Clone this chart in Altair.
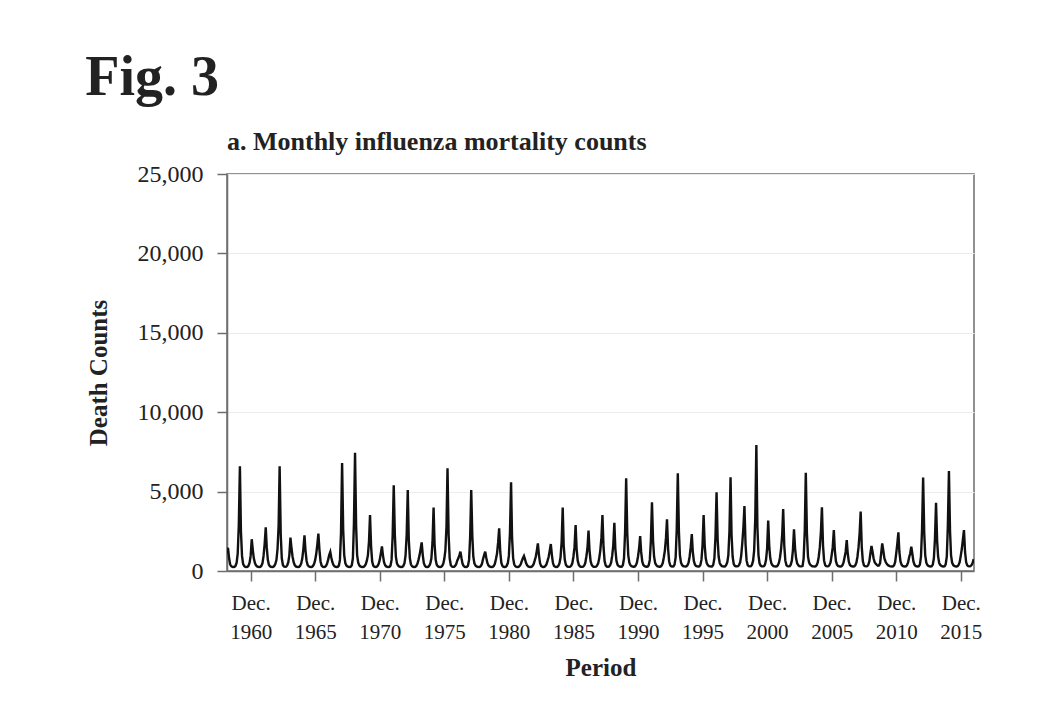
import altair as alt
import pandas as pd

# Monthly influenza deaths, Jan..Dec for each year
years = list(range(1959, 2017))
counts_by_year = [
    [1100, 1300, 1450, 800, 420, 300, 260, 250, 260, 330, 520, 1100],   # 1959
    [2900, 6600, 2500, 950, 450, 310, 260, 250, 260, 330, 520, 950],    # 1960
    [2000, 1300, 800, 500, 360, 290, 260, 250, 260, 330, 500, 950],     # 1961
    [1700, 2750, 1500, 700, 400, 300, 260, 250, 260, 320, 450, 700],    # 1962
    [1400, 2900, 6600, 2300, 800, 380, 280, 260, 270, 350, 550, 1000],  # 1963
    [2100, 1400, 900, 550, 370, 290, 260, 250, 260, 330, 480, 800],     # 1964
    [1400, 2250, 1300, 650, 380, 290, 260, 250, 260, 320, 450, 700],    # 1965
    [1100, 1700, 2350, 1300, 600, 340, 270, 250, 260, 320, 450, 700],   # 1966
    [1000, 1200, 850, 550, 380, 300, 260, 250, 260, 340, 700, 2400],    # 1967
    [6800, 2600, 1000, 500, 350, 290, 260, 250, 270, 360, 800, 3000],   # 1968
    [7450, 2800, 1000, 520, 360, 290, 260, 250, 260, 320, 430, 650],    # 1969
    [1000, 1900, 3530, 1500, 600, 340, 270, 250, 260, 320, 450, 700],   # 1970
    [1100, 1550, 1000, 560, 370, 290, 260, 250, 260, 340, 700, 2200],   # 1971
    [5400, 2300, 900, 480, 350, 290, 260, 250, 260, 330, 500, 1000],    # 1972
    [2300, 5100, 2000, 800, 420, 300, 260, 250, 260, 320, 450, 700],    # 1973
    [1000, 1400, 1800, 1000, 500, 320, 260, 250, 260, 330, 480, 800],   # 1974
    [1800, 4000, 1700, 700, 400, 300, 260, 250, 260, 320, 450, 750],    # 1975
    [1300, 2800, 6470, 2300, 800, 380, 280, 260, 260, 320, 430, 650],   # 1976
    [800, 1000, 1220, 800, 450, 310, 260, 250, 260, 340, 700, 2100],    # 1977
    [5100, 2200, 900, 480, 350, 290, 260, 250, 260, 320, 450, 750],     # 1978
    [1000, 1220, 850, 520, 360, 290, 260, 250, 260, 320, 450, 750],     # 1979
    [1100, 1800, 2690, 1200, 520, 320, 260, 250, 260, 330, 500, 950],   # 1980
    [2400, 5580, 2100, 800, 420, 300, 260, 250, 260, 320, 420, 620],    # 1981
    [800, 945, 750, 500, 360, 290, 260, 250, 260, 320, 430, 650],       # 1982
    [900, 1300, 1740, 1000, 500, 320, 270, 250, 260, 320, 430, 650],    # 1983
    [900, 1300, 1700, 1000, 500, 320, 270, 250, 260, 330, 480, 850],    # 1984
    [1800, 3990, 1600, 700, 400, 300, 270, 260, 270, 340, 500, 900],    # 1985
    [1500, 2900, 1400, 650, 400, 300, 270, 260, 270, 340, 500, 900],    # 1986
    [1400, 2540, 1300, 620, 390, 300, 270, 260, 270, 340, 480, 800],    # 1987
    [1300, 2100, 3530, 1500, 620, 350, 280, 270, 280, 350, 520, 950],   # 1988
    [1600, 3040, 1400, 650, 400, 310, 280, 270, 280, 380, 800, 2400],   # 1989
    [5840, 2400, 1000, 520, 370, 300, 280, 270, 280, 350, 520, 900],    # 1990
    [1400, 2200, 1200, 600, 390, 310, 280, 270, 280, 370, 700, 1900],   # 1991
    [4330, 1900, 900, 500, 370, 300, 280, 270, 280, 350, 500, 850],     # 1992
    [1300, 2100, 3250, 1400, 600, 350, 290, 280, 290, 400, 850, 2600],  # 1993
    [6150, 2500, 1000, 530, 380, 310, 290, 280, 290, 360, 520, 900],    # 1994
    [1500, 2330, 1200, 620, 400, 320, 290, 280, 290, 380, 700, 1600],   # 1995
    [3530, 1600, 800, 480, 370, 310, 290, 280, 290, 400, 800, 2100],    # 1996
    [4960, 2000, 900, 500, 380, 310, 290, 280, 290, 380, 560, 1000],    # 1997
    [2500, 5900, 2300, 900, 450, 330, 300, 290, 300, 380, 560, 1000],   # 1998
    [1800, 2800, 4090, 1700, 650, 370, 300, 290, 300, 400, 650, 1300],  # 1999
    [3300, 7930, 2800, 1000, 480, 340, 300, 290, 300, 400, 700, 1400],  # 2000
    [3170, 1500, 800, 480, 370, 310, 290, 280, 290, 360, 520, 850],     # 2001
    [1400, 2300, 3900, 1600, 650, 370, 300, 290, 300, 400, 650, 1300],  # 2002
    [2620, 1400, 800, 480, 370, 310, 290, 290, 320, 800, 2500, 6190],   # 2003
    [2400, 900, 550, 400, 340, 300, 290, 280, 290, 360, 520, 900],      # 2004
    [1500, 2500, 4010, 1600, 650, 370, 300, 290, 300, 380, 560, 1000],  # 2005
    [1500, 2580, 1300, 620, 400, 320, 290, 280, 290, 360, 520, 850],    # 2006
    [1200, 1950, 1100, 580, 390, 320, 290, 280, 290, 360, 520, 900],    # 2007
    [1500, 2400, 3740, 1500, 620, 360, 300, 290, 300, 380, 600, 1100],  # 2008
    [1575, 1200, 800, 550, 450, 380, 330, 350, 500, 1100, 1740, 1300],  # 2009
    [800, 600, 480, 390, 340, 310, 290, 280, 290, 360, 560, 1100],      # 2010
    [1700, 2440, 1200, 600, 400, 320, 290, 280, 290, 360, 520, 850],    # 2011
    [1100, 1530, 1100, 600, 400, 320, 290, 280, 300, 400, 900, 2600],   # 2012
    [5880, 2400, 1000, 520, 380, 320, 290, 280, 300, 400, 800, 2000],   # 2013
    [4300, 1900, 900, 500, 380, 320, 290, 280, 300, 420, 900, 2800],    # 2014
    [6300, 2500, 1000, 530, 380, 320, 290, 280, 300, 380, 560, 950],    # 2015
    [1400, 2000, 2580, 1200, 560, 360, 300, 290, 300, 370, 500, 750],   # 2016
]

tick_years = [1960, 1965, 1970, 1975, 1980, 1985, 1990, 1995, 2000, 2005, 2010, 2015]
y_ticks = [0, 5000, 10000, 15000, 20000, 25000]

rows = []
for y, vals in zip(years, counts_by_year):
    for m, v in enumerate(vals):
        rows.append({"date": pd.Timestamp(year=y, month=m + 1, day=1), "deaths": v})
df = pd.DataFrame(rows)

serif = "Liberation Serif"
ink = "#222222"
axis_gray = "#6e6e6e"

line = alt.Chart(df).mark_line(color="#111111", strokeWidth=2.4, clip=True).encode(
    x=alt.X(
        "date:T",
        title="Period",
        scale=alt.Scale(domain=[alt.DateTime(year=1959, month=2, date=1),
                                alt.DateTime(year=2016, month=12, date=10)]),
        axis=alt.Axis(
            values=[alt.DateTime(year=y, month=12, date=1) for y in tick_years],
            labelExpr="['Dec.', timeFormat(datum.value, '%Y')]",
            grid=False,
            labelFontSize=21,
            labelLineHeight=29,
            labelPadding=11,
            titlePadding=13,
        ),
    ),
    y=alt.Y(
        "deaths:Q",
        title="Death Counts",
        scale=alt.Scale(domain=[0, 25000]),
        axis=alt.Axis(values=y_ticks, labelExpr="format(datum.value, ',')",
                      grid=True, labelFontSize=24, labelPadding=14, titlePadding=26),
    ),
).properties(
    width=747,
    height=397,
    title=alt.TitleParams(
        "a. Monthly influenza mortality counts",
        anchor="start",
        frame="group",
        fontSize=26,
        font=serif,
        fontWeight="bold",
        color=ink,
        offset=7,
    ),
)

chart = alt.vconcat(
    line,
    title=alt.TitleParams("Fig. 3", anchor="start", fontSize=56, font=serif,
                          fontWeight="bold", color=ink, offset=21),
).properties(
    padding={"left": 77, "top": 42, "right": 30, "bottom": 20},
).configure(
    background="#ffffff",
).configure_view(
    stroke=axis_gray,
    strokeWidth=1.5,
).configure_axis(
    labelFont=serif,
    labelColor=ink,
    titleFont=serif,
    titleFontSize=25,
    titleFontWeight="bold",
    titleColor=ink,
    domainColor=axis_gray,
    domainWidth=1.5,
    tickColor=axis_gray,
    tickWidth=1.5,
    tickSize=10,
    gridColor="#ececec",
    gridWidth=1,
)

chart.save("out.html", embed_options={"renderer": "svg", "actions": False})
